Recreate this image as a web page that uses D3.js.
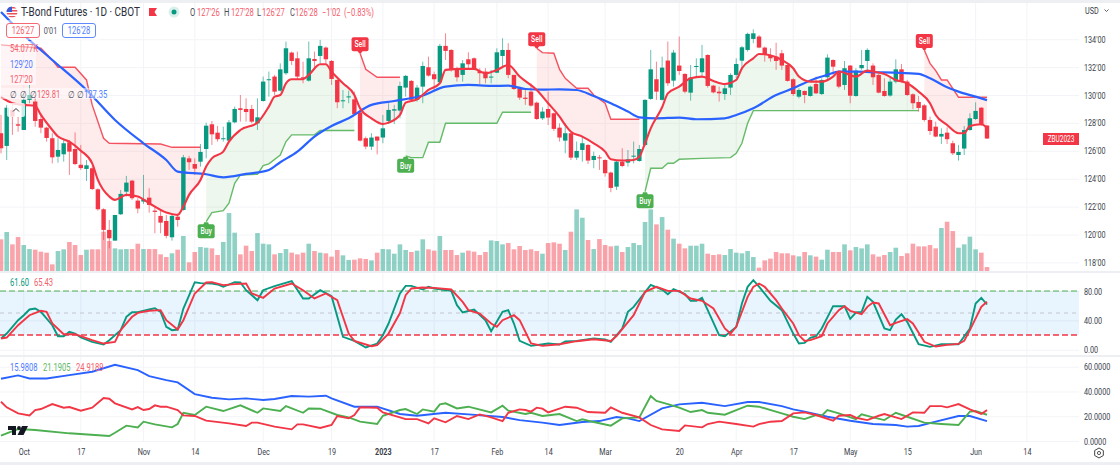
<!DOCTYPE html>
<html>
<head>
<meta charset="utf-8">
<title>T-Bond Futures</title>
<script src="https://cdn.jsdelivr.net/npm/d3@7"></script>
<style>
  html, body { margin: 0; padding: 0; background: #fff; }
  svg { display: block; }
  text { font-family: Roboto, "Open Sans", sans-serif; }
  .axis text { font-size: 9.5px; fill: #3a3e4a; }
  .axis path { display: none; }
  .axis line { stroke: #f3f4f7; }
</style>
</head>
<body>
<div id="chart"></div>
<script>
// Candles, bar 0 is the first one on the left
const openVals = [
  127.26,126.35,128.93,127.9,127.49,129.65,129.53,128.28,127.66,126.9,
  125.58,125.75,126.61,126.13,125.0,124.7,124.75,123.24,121.81,120.33,
  119.56,121.45,123.07,123.86,122.43,122.36,122.64,121.71,121.33,120.97,
  119.8,121.28,121.76,125.46,125.05,125.22,126.13,127.9,127.3,126.83,
  126.73,128.04,129.05,129.0,129.0,127.97,129.57,131.08,131.32,130.31,
  131.56,133.04,132.63,131.27,131.03,132.58,132.8,133.4,132.44,131.08,
  129.55,129.86,129.69,128.76,126.9,126.3,127.02,126.95,128.14,128.88,
  128.88,130.53,131.01,129.65,130.6,131.99,131.49,130.91,133.52,133.23,
  131.92,131.44,132.56,132.63,131.72,131.68,131.25,131.6,132.8,133.23,
  131.44,130.48,129.81,130.24,129.45,128.33,129.0,128.69,127.66,126.73,
  127.26,125.51,126.06,126.42,125.34,125.53,125.34,124.44,123.43,125.22,
  125.15,125.58,125.27,126.42,129.72,131.13,129.65,132.47,131.03,132.11,
  131.51,130.17,132.03,131.63,132.87,130.67,130.24,130.07,130.53,131.44,
  132.46,133.23,134.02,134.19,133.4,132.87,132.75,132.99,132.15,131.13,
  129.88,130.29,129.93,130.79,130.07,131.27,132.51,131.68,130.72,132.11,
  129.93,131.92,132.44,132.11,131.44,130.29,129.96,130.96,131.84,130.96,
  130.05,129.5,129.26,128.21,127.73,127.02,127.3,126.54,125.7,126.16,
  127.49,128.28,129.09,127.81
];
const closeVals = [
  126.18,129.09,128.45,127.8,129.65,130.0,128.14,127.66,126.92,125.53,
  126.06,126.54,125.94,125.05,124.76,124.96,123.26,121.81,120.33,119.73,
  121.4,122.91,123.72,122.6,121.86,122.52,122.12,121.62,120.85,119.9,
  121.33,121.04,125.53,125.18,124.72,125.92,127.8,127.18,126.83,126.9,
  128.04,129.0,128.93,128.78,128.09,128.4,130.96,131.13,130.24,131.84,
  133.35,132.44,131.32,131.17,132.63,132.44,133.52,132.56,131.15,129.48,
  129.62,129.9,128.62,126.73,126.3,126.95,126.73,127.61,128.93,128.98,
  130.65,131.37,129.65,130.53,132.08,131.39,131.13,133.52,133.16,131.87,
  131.27,132.27,132.2,131.84,131.56,131.2,131.32,133.06,133.23,131.44,
  130.43,129.81,129.72,129.24,128.28,128.81,128.38,127.57,126.95,127.26,
  125.51,125.99,126.54,125.3,125.63,125.49,124.39,123.34,125.22,124.91,
  125.39,125.65,126.13,129.65,131.84,130.24,131.96,130.84,133.04,131.72,
  130.24,131.25,132.08,132.63,130.65,130.19,130.12,130.48,131.44,132.22,
  133.42,134.38,134.42,133.4,132.92,132.63,132.44,132.11,131.01,130.07,
  130.36,130.0,130.6,130.12,131.08,132.68,132.03,130.6,131.92,129.95,
  131.75,132.15,133.23,131.27,130.17,129.93,130.96,131.84,131.01,130.0,
  129.41,129.07,128.21,127.42,127.02,127.21,126.83,125.82,125.92,127.49,
  128.33,128.86,127.85,126.88
];
const highVals = [
  128.57,129.29,129.41,128.45,130.12,130.72,130.0,128.69,127.73,127.26,
  126.9,126.78,126.78,127.32,126.42,125.34,124.87,123.31,121.88,121.04,
  121.4,123.19,124.2,123.91,122.6,124.27,123.31,122.0,121.76,121.4,
  121.4,121.52,125.7,125.63,125.46,126.49,128.02,128.14,127.78,127.73,
  128.21,129.17,130.0,129.76,129.29,129.76,131.32,131.68,131.44,132.27,
  133.83,133.11,133.11,132.39,133.83,133.11,133.95,133.47,132.51,131.13,
  130.36,130.31,130.24,128.81,127.02,127.26,127.02,128.57,129.41,129.29,
  130.96,131.44,131.08,130.72,132.39,132.75,131.68,133.66,134.42,133.28,
  132.03,132.51,133.06,132.7,131.92,131.92,131.8,133.35,134.07,133.71,
  131.44,130.6,130.36,130.84,129.53,129.12,130.24,128.74,127.97,127.97,
  127.3,126.66,127.02,126.49,125.94,125.7,125.39,124.51,125.27,126.18,
  126.06,126.66,126.42,129.69,133.23,132.39,132.75,133.83,133.23,134.19,
  131.56,132.15,132.63,133.59,132.92,130.72,130.6,130.72,131.56,132.63,
  133.52,134.47,134.71,134.3,133.47,133.35,133.75,133.23,132.2,131.2,
  130.48,130.31,130.67,131.32,131.2,132.92,132.56,131.72,132.44,132.15,
  131.92,133.23,133.35,132.27,131.51,131.2,131.2,132.56,132.22,131.08,
  130.12,129.93,129.36,128.45,128.09,127.61,127.68,126.73,126.42,127.78,
  128.69,129.47,129.12,127.85
];
const lowVals = [
  125.82,125.34,127.14,127.37,127.49,129.41,127.73,127.26,126.66,125.1,
  125.15,125.22,124.27,124.97,124.63,123.84,123.19,121.71,119.61,119.01,
  119.56,121.4,122.72,122.48,121.52,122.19,121.57,120.09,120.09,119.73,
  119.56,120.56,121.71,124.63,124.27,124.87,125.46,126.42,126.66,126.66,
  126.66,127.97,128.09,128.09,127.97,127.49,129.53,129.88,130.0,130.24,
  131.44,132.15,131.13,130.84,130.96,131.8,132.27,132.27,130.72,129.05,
  129.05,129.41,128.57,126.66,126.11,126.06,125.75,126.54,127.92,127.92,
  128.33,129.88,129.53,129.53,129.41,131.32,130.36,130.84,132.51,131.68,
  130.96,130.96,131.92,131.8,130.79,130.84,130.84,131.56,131.92,131.2,
  130.36,129.65,129.29,129.17,128.21,128.21,127.85,127.42,126.66,125.82,
  125.34,125.34,125.22,125.05,124.75,124.63,124.15,123.03,123.19,124.82,
  124.87,125.1,125.22,126.35,129.65,129.65,129.6,130.65,130.6,131.44,
  130.12,129.6,131.32,131.32,130.53,130.12,129.53,129.65,130.0,131.2,
  131.8,133.11,133.71,133.35,132.39,132.39,131.8,131.8,130.96,129.93,
  129.76,129.41,129.88,130.07,130.0,131.08,131.44,130.48,130.36,129.41,
  129.88,131.8,131.75,130.72,130.12,129.88,129.88,130.84,130.89,129.93,
  128.98,128.8,128.09,127.14,126.97,126.49,126.49,125.7,125.3,125.7,
  127.44,128.21,127.78,126.85
];
// Volume in thousands
const volumeVals = [
  428,527,360,459,351,297,288,261,248,90,270,293,392,351,216,288,293,293,531,405,
  306,293,297,297,369,297,297,297,225,189,239,288,473,117,257,324,315,306,216,392,
  783,518,225,342,270,513,369,360,225,243,297,248,225,248,369,270,248,239,194,284,
  212,149,153,171,162,144,248,297,293,234,360,284,257,275,428,293,275,473,284,284,
  216,248,275,261,216,257,414,405,360,378,293,338,284,293,270,234,378,387,369,284,
  531,833,720,419,297,432,351,333,342,257,324,378,351,662,833,630,729,558,437,369,
  306,342,342,369,234,216,225,216,297,248,239,270,189,45,144,167,257,239,239,212,
  198,257,212,194,153,288,257,257,360,279,324,306,360,225,194,216,257,315,203,239,
  369,333,333,351,306,581,666,540,315,360,464,293,248,54
];

// Moving averages, bar number and price at the bends
const fastBars = [0,2,4,6,7,9,10,12,14,16,17,19,20,22,24,26,29,31,32,33,35,36,37,39,40,42,45,47,48,49,50,51,53,54,56,57,58,60,62,63,65,67,68,70,71,73,75,77,78,81,83,85,87,89,91,94,96,98,99,100,102,104,106,107,109,111,112,113,114,116,117,119,121,123,125,127,129,130,132,133,134,137,139,140,142,144,146,147,150,152,153,155,157,159,161,163,164,166,168,169,170,172,173];
const fastVals = [129.84,129.41,129.29,129.21,128.57,127.49,127.02,126.66,126.01,125.1,123.91,122.72,122.48,122.84,122.72,122.24,121.57,121.4,122.0,122.84,123.91,124.87,125.46,125.94,126.66,127.49,128.02,129.17,129.88,130.0,130.84,131.13,131.13,131.44,132.2,132.2,131.68,130.84,130.0,129.05,128.33,127.92,128.02,128.57,129.45,129.69,130.36,130.84,131.8,131.87,131.87,131.56,131.8,132.15,131.32,130.36,129.41,128.45,127.85,127.37,127.02,126.54,125.94,125.39,125.3,125.34,125.58,126.54,127.61,129.12,130.12,130.6,131.2,131.32,131.01,130.79,131.08,131.92,132.63,132.94,132.92,132.51,131.92,131.32,130.96,130.96,131.32,131.68,131.32,131.75,131.68,131.5,131.08,130.84,130.24,129.41,128.57,127.85,127.26,127.26,127.78,127.9,127.63];
const slowBars = [0,4,9,15,20,25,29,31,36,39,43,47,49,52,55,58,61,65,69,74,78,82,86,89,92,95,98,101,104,107,110,112,115,119,122,127,129,132,136,139,143,145,147,150,153,157,161,163,166,168,171,173];
const slowVals = [135.95,134.3,132.51,130.36,128.21,126.54,125.34,124.51,124.32,124.1,124.34,124.63,125.18,125.94,127.02,127.78,128.33,129.29,129.57,129.96,130.6,130.72,130.65,130.67,130.43,130.38,130.41,130.36,129.93,129.41,128.81,128.4,128.33,128.38,128.26,128.33,128.57,129.05,130.0,130.48,131.2,131.44,131.68,131.68,131.63,131.6,131.51,131.2,130.55,130.24,129.88,129.63];

// Supertrend stretches
const sellBars1 = [0,7,9,10,13,15,16,18,19,28,30,35];
const sellVals1 = [133.59,133.35,132.51,131.99,131.99,131.08,129.29,126.9,126.54,126.49,126.25,126.25];
const buyBars1 = [36,37,39,40,41,42,45,46,47,49,50,51,55,56,62];
const buyVals1 = [120.92,121.57,121.71,122.24,123.67,124.27,124.32,124.94,125.06,125.7,126.66,127.14,127.14,127.45,127.45];
const sellBars2 = [63,64,66,70];
const sellVals2 = [132.99,131.84,131.27,131.27];
const buyBars2 = [71,72,74,75,77,78,87,88,93];
const buyVals2 = [125.63,125.51,125.51,126.61,126.61,127.97,127.97,128.76,128.76];
const sellBars3 = [94,95,97,98,99,101,103,104,106,107,112];
const sellVals3 = [133.35,133.04,132.99,131.84,131.2,130.48,130.48,130.0,129.41,128.26,128.26];
const buyBars3 = [113,114,116,117,118,119,123,128,129,130,131,132,161];
const buyVals3 = [123.07,124.75,124.75,125.11,125.11,125.39,125.46,125.51,125.82,126.54,127.97,128.88,128.88];
const sellBars4 = [162,163,164,165,166,168,173];
const sellVals4 = [133.23,132.27,131.75,131.08,131.08,129.84,129.84];

// Stochastic RSI
const kBars = [0,1,3,4,5,6,7,9,10,11,12,13,14,16,18,19,21,22,23,24,26,27,28,29,30,31,32,34,35,37,38,39,41,42,43,45,46,48,51,53,54,56,58,60,62,64,66,67,68,70,71,72,74,75,76,79,80,81,83,85,86,88,89,90,91,93,96,98,99,101,104,106,107,109,110,111,114,116,117,118,120,121,122,123,124,126,127,129,130,131,132,133,135,137,139,140,141,142,143,144,146,148,149,150,151,152,153,155,156,157,158,159,161,163,165,168,170,171,172,173];
const kVals = [15.2,22,40.2,47,54.8,56.1,51.6,33.4,18.4,18.4,24.3,22,16.6,10.7,7,13,26.6,44.8,51.1,51.1,54.8,56.6,51.6,31.1,26.6,27.5,56.1,92,90.7,90.2,88.9,85.7,92,91.6,81.1,67.5,81.1,86.6,93.4,69.8,69.8,81.1,73,17.5,12,3,8.4,19.8,35.7,76.6,87,87,82,85.7,83.4,80.2,60.7,50.7,54.8,40.2,25.2,51.6,53.9,35.7,12,5.2,8.4,7,11.1,12,15.2,13.9,10.7,28.9,51.6,58.4,88.4,82,75.7,82.5,75.7,66.6,66.6,70.7,53.9,19.8,18.4,31.1,63,85.7,94.8,86,66.6,53.9,22,8.4,9.3,16.1,18.4,28.9,59.3,59.3,42,50.7,51.6,72,65.2,28.9,26.6,41.1,48.4,38,7.5,3.9,7.5,7.5,28.9,63,70.7,61.6];
const dBars = [0,1,3,5,7,8,9,11,13,16,18,20,21,23,24,26,28,29,31,32,34,36,37,39,41,43,44,46,48,51,53,55,57,59,61,62,65,66,68,70,71,72,74,76,79,81,82,84,86,87,88,90,91,93,95,98,101,104,107,108,111,113,115,117,119,121,123,125,127,128,129,131,132,133,134,136,137,139,140,141,142,144,145,147,148,149,151,152,153,154,156,157,159,160,162,164,166,168,169,170,172,173];
const dVals = [15.2,16.6,33.4,47,53,51.6,35.7,21.1,21.1,13,8.4,10.7,26.6,44.8,50.2,53,53.9,40.2,27.5,40.2,76.6,91.6,92,88,89.3,90.2,76.6,70.7,83.4,90.2,81.1,69.8,76.6,67.5,22,12,4.8,6.1,22,50,74.3,83.4,84.8,84.3,82,65.2,53.9,49.3,35.7,31.1,40.2,47,40.2,8.4,5.2,7.5,11.6,14.3,12,18.4,47,78.9,85.7,80.2,80.2,69.8,66.6,56.1,28.9,22,31.1,72,85.7,90.2,85.7,67.5,56.1,35.7,19.8,12,13,18.4,35.7,53.9,59.3,53,48.4,58.4,64.3,63,33.4,36.6,41.6,35.7,10.7,4.3,6.6,8,12,26.6,58.4,65.43];

// Directional movement
const diBlueBars = [0,3,5,8,12,16,20,24,26,29,31,34,37,40,43,46,48,51,54,57,58,62,66,70,73,78,82,88,91,95,98,102,105,108,110,112,116,119,123,127,131,133,137,139,141,145,149,153,157,159,161,164,168,170,173];
const diBlueVals = [50.3,53,50.5,50.5,53.2,55.9,61.6,57.3,52.4,49.2,47.3,37.9,34.9,33.6,34.4,33.1,33.9,36.3,35.8,36.6,34.4,27.7,27.7,21.8,20.4,22.8,21.5,19.4,16.9,14.8,12.9,15.3,16.1,19.4,18.3,16.1,26.3,29.6,30.9,28.2,31.5,31.5,28.2,25.5,23.7,19.6,16.4,13.7,12.9,11.6,12.1,15.6,20.2,20.2,15.98];
const diGreenBars = [0,1,3,6,12,19,20,22,24,25,27,30,31,32,34,36,39,42,45,46,49,50,53,54,56,59,61,63,66,67,70,71,73,74,76,77,78,80,82,86,88,89,92,93,95,98,101,102,104,107,109,112,114,115,117,119,121,123,124,127,129,131,133,137,139,141,143,144,145,147,150,151,153,155,157,159,162,165,168,170,171,173];
const diGreenVals = [4.3,6.2,9.7,8.9,6.2,4,6.7,12.4,11,15.6,13.4,11,13.7,22.8,21,27.7,24.2,28.8,22.8,26.3,24.2,28.2,22.8,26.3,26.1,21,19.1,15.6,13.7,20.4,25,25.8,21.8,25.5,23.7,29.6,30.4,26.3,27.7,23.1,28.5,24.5,21.8,22.8,20.2,21.8,16.1,17.5,15.3,12.4,18.3,19.1,36.3,32.3,29.8,26.9,23.4,25,22.8,21.2,25,28.5,27.7,22.3,19.6,17.7,21,20.4,25,22.3,17.7,21.5,19.1,16.9,22.8,19.6,14.8,13.7,12.9,23.7,24.2,21.19];
const diRedBars = [0,1,3,5,6,7,9,11,12,14,16,18,19,20,23,24,25,26,27,28,29,31,32,34,36,40,43,44,45,48,51,52,53,56,58,59,61,62,63,66,67,70,71,73,75,76,78,80,82,84,86,88,89,91,92,93,94,95,96,99,101,103,106,107,109,112,114,116,119,120,123,124,126,129,132,133,135,137,139,141,143,146,147,149,150,152,154,155,158,160,162,163,165,166,168,170,172,173];
const diRedVals = [31.7,27.2,22.3,20.7,25,25.8,29.8,26.9,27.4,24.5,26.9,34.7,34.1,30.4,25.5,27.4,25,25.8,28.8,27.7,27.7,25,20.7,20.2,16.4,14.2,12.1,14.8,14.8,11.6,9.4,13.4,13.4,10.5,12.9,20.2,18.3,21,27.2,26.9,23.1,19.1,17.7,17.7,14.2,18.3,15.1,20.2,17.7,21.5,19.1,16.1,22.8,25.5,25,23.7,26.9,26.1,23.1,27.7,26.9,23.4,22.8,27.2,22.8,19.1,12.9,9.4,8.1,12.6,11,13.7,15.6,13.7,11.6,13.7,15.6,16.1,22.3,23.1,21,16.4,20.4,21,18.8,16.9,20.4,21.8,17.7,23.1,22.8,28.2,28.2,27.2,29.8,25.5,21.8,24.92];

// Axis labels
const timeBars = [4,14,25,34,46,58,67,76,87,96,106,119,129,139,149,159,171,180];
const timeLabels = ["Oct","17","Nov","14","Dec","19","2023","17","Feb","14","Mar","20","Apr","17","May","15","Jun","14"];
const priceTicks = [118,120,122,124,126,128,130,132,134];
const stochTicks = [0,40,80];
const dmiTicks = [0,20,40,60];

const width = 1120, height = 465, paneRight = 1079;
const up = "#089981", down = "#f23645", blue = "#2962ff", green = "#4caf50";

const svg = d3.select("#chart").append("svg").attr("width", width).attr("height", height);

const x = d3.scaleLinear().domain([0, 173]).range([1, 987]);
const y = d3.scaleLinear().domain([118, 134]).range([262.4, 39.2]);
const yVol = d3.scaleLinear().domain([0, 1000]).range([271, 197]);
const yStoch = d3.scaleLinear().domain([0, 80]).range([349.7, 291]);
const yDmi = d3.scaleLinear().domain([0, 60]).range([441, 366.7]);

svg.append("defs").append("clipPath").attr("id", "mainClip")
  .append("rect").attr("x", 0).attr("y", 4).attr("width", paneRight).attr("height", 267);

// Grid lines and axes
const gridX = svg.append("g").attr("class", "axis")
  .attr("transform", "translate(0,442)")
  .call(d3.axisBottom(x).tickValues(timeBars).tickSize(0).tickPadding(6).tickFormat((d, i) => timeLabels[i]));
gridX.selectAll("text").attr("font-weight", (d, i) => timeLabels[i] == "2023" ? 700 : 400);

[[3, 271], [272, 355], [356, 442]].forEach(p => {
  svg.append("g").selectAll("line").data(timeBars).enter().append("line")
    .attr("x1", d => x(d)).attr("x2", d => x(d)).attr("y1", p[0]).attr("y2", p[1])
    .attr("stroke", "#f3f4f7");
});

function rightAxis(scale, ticks, fmt) {
  return svg.append("g").attr("class", "axis").attr("transform", "translate(" + paneRight + ",0)")
    .call(d3.axisRight(scale).tickValues(ticks).tickSize(-paneRight).tickPadding(5).tickFormat(fmt));
}
rightAxis(y, priceTicks, d => d + "'00");
rightAxis(yStoch, stochTicks, d => d3.format(".2f")(d));
rightAxis(yDmi, dmiTicks, d => d3.format(".4f")(d));

// Supertrend fills go from the line to the fast average
const fastAt = d3.scaleLinear().domain(fastBars).range(fastVals);
const trendSegs = [
  { bars: sellBars1, vals: sellVals1, color: down, sig: "Sell" },
  { bars: buyBars1, vals: buyVals1, color: green, sig: "Buy" },
  { bars: sellBars2, vals: sellVals2, color: down, sig: "Sell" },
  { bars: buyBars2, vals: buyVals2, color: green, sig: "Buy" },
  { bars: sellBars3, vals: sellVals3, color: down, sig: "Sell" },
  { bars: buyBars3, vals: buyVals3, color: green, sig: "Buy" },
  { bars: sellBars4, vals: sellVals4, color: down, sig: "Sell" }
];

function pairs(bars, vals) { return bars.map((b, i) => [b, vals[i]]); }

const main = svg.append("g").attr("clip-path", "url(#mainClip)");
const priceLine = d3.line().x(d => x(d[0])).y(d => y(d[1]));

trendSegs.forEach(s => {
  const first = s.bars[0], last = s.bars[s.bars.length - 1];
  const back = d3.range(last, first - 1, -1).map(b => [b, fastAt(b)]);
  main.append("path")
    .attr("d", priceLine(pairs(s.bars, s.vals).concat(back)) + "Z")
    .attr("fill", s.color).attr("fill-opacity", 0.1);
});

// Volume under the candles
main.selectAll("rect.vol").data(volumeVals).enter().append("rect")
  .attr("class", "vol")
  .attr("x", (d, i) => x(i) - 2.3)
  .attr("width", 4.6)
  .attr("y", d => yVol(d))
  .attr("height", d => yVol(0) - yVol(d))
  .attr("fill", (d, i) => closeVals[i] >= openVals[i] ? up : down)
  .attr("fill-opacity", 0.45);

trendSegs.forEach(s => {
  main.append("path").attr("d", priceLine(pairs(s.bars, s.vals)))
    .attr("fill", "none").attr("stroke", s.color).attr("stroke-width", 1.4).attr("stroke-opacity", 0.85);
});

// Candles
const barColor = i => closeVals[i] >= openVals[i] ? up : down;
main.selectAll("line.wick").data(highVals).enter().append("line")
  .attr("class", "wick")
  .attr("x1", (d, i) => x(i)).attr("x2", (d, i) => x(i))
  .attr("y1", d => y(d)).attr("y2", (d, i) => y(lowVals[i]))
  .attr("stroke", (d, i) => barColor(i)).attr("stroke-width", 1).attr("stroke-opacity", 0.6);
main.selectAll("rect.body").data(openVals).enter().append("rect")
  .attr("class", "body")
  .attr("x", (d, i) => x(i) - 2.2)
  .attr("width", 4.4)
  .attr("y", (d, i) => y(Math.max(d, closeVals[i])))
  .attr("height", (d, i) => Math.max(1, Math.abs(y(d) - y(closeVals[i]))))
  .attr("fill", (d, i) => barColor(i));

// Moving averages
const priceCurve = d3.line().x(d => x(d[0])).y(d => y(d[1])).curve(d3.curveMonotoneX);
main.append("path").attr("d", priceCurve(pairs(slowBars, slowVals)))
  .attr("fill", "none").attr("stroke", blue).attr("stroke-width", 2.2);
main.append("path").attr("d", priceCurve(pairs(fastBars, fastVals)))
  .attr("fill", "none").attr("stroke", down).attr("stroke-width", 2.1);

// Buy and Sell flags
trendSegs.slice(1).forEach(s => {
  const isBuy = s.sig == "Buy";
  const fx = x(s.bars[0]), fy = y(s.vals[0]);
  const cy = isBuy ? fy + 9.7 : fy - 9;
  const g = svg.append("g");
  g.append("rect").attr("x", fx - 8.5).attr("y", cy - 7).attr("width", 17).attr("height", 14)
    .attr("rx", 2).attr("fill", s.color);
  g.append("path").attr("fill", s.color)
    .attr("d", isBuy
      ? d3.line()([[fx - 3, cy - 6], [fx - 2, cy - 9], [fx + 2, cy - 9], [fx + 3, cy - 6]])
      : d3.line()([[fx - 3, cy + 6], [fx - 1, cy + 9], [fx + 1, cy + 9], [fx + 3, cy + 6]]));
  g.append("text").attr("x", fx).attr("y", cy + 3).attr("text-anchor", "middle")
    .attr("font-size", 9).attr("font-weight", 500).attr("fill", "#fff").text(s.sig);
});

// Contract label on the price scale
svg.append("rect").attr("x", 1043).attr("y", 133).attr("width", 36).attr("height", 12).attr("fill", down);
svg.append("text").attr("x", 1061).attr("y", 142).attr("text-anchor", "middle")
  .attr("font-size", 8.5).attr("fill", "#fff").text("ZBU2023");

// Stochastic pane
svg.append("rect").attr("x", 0).attr("width", paneRight)
  .attr("y", yStoch(80)).attr("height", yStoch(20) - yStoch(80))
  .attr("fill", "#2196f3").attr("fill-opacity", 0.1);
[[80, green, "6,3", 1.2], [50, "#b8bcc6", "4,4", 0.8], [20, down, "6,3", 1.6]].forEach(l => {
  svg.append("line").attr("x1", 0).attr("x2", paneRight).attr("y1", yStoch(l[0])).attr("y2", yStoch(l[0]))
    .attr("stroke", l[1]).attr("stroke-dasharray", l[2]).attr("stroke-width", l[3]);
});
const stochLine = d3.line().x(d => x(d[0])).y(d => yStoch(d[1]));
svg.append("path").attr("d", stochLine(pairs(kBars, kVals)))
  .attr("fill", "none").attr("stroke", up).attr("stroke-width", 1.9);
svg.append("path").attr("d", stochLine(pairs(dBars, dVals)))
  .attr("fill", "none").attr("stroke", down).attr("stroke-width", 1.9);

// Directional movement pane
const dmiLine = d3.line().x(d => x(d[0])).y(d => yDmi(d[1]));
[[diBlueBars, diBlueVals, blue], [diGreenBars, diGreenVals, green], [diRedBars, diRedVals, down]].forEach(s => {
  svg.append("path").attr("d", dmiLine(pairs(s[0], s[1])))
    .attr("fill", "none").attr("stroke", s[2]).attr("stroke-width", 1.9);
});

// Pale backing behind the legend rows
[[0, 20, 100, 20], [0, 41, 36, 44], [0, 88, 108, 11]].forEach(r => {
  svg.append("rect").attr("x", r[0]).attr("y", r[1]).attr("width", r[2]).attr("height", r[3])
    .attr("fill", "#fff").attr("fill-opacity", 0.5);
});
svg.append("rect").attr("x", 7).attr("y", 103).attr("width", 18).attr("height", 14).attr("rx", 2)
  .attr("fill", "#fff").attr("fill-opacity", 0.8);
svg.append("path").attr("d", "M13,111.5L16,108.5L19,111.5").attr("fill", "none").attr("stroke", "#333").attr("stroke-width", 1);

// Legend
function label(lx, ly, str, color, size) {
  return svg.append("text").attr("x", lx).attr("y", ly).attr("font-size", size).attr("fill", color).text(str);
}
const ink = "#4a4e5a", redText = "#f4606c", blueText = "#4f7dff", greenText = "#62b866";
label(21, 16, "T-Bond Futures · 1D · CBOT", "#2a2e39", 12).attr("class", "title");
[[190, "O", 197, "127'26"], [224, "H", 231, "127'28"], [257, "L", 262, "126'27"], [290, "C", 295, "126'28"]].forEach(r => {
  label(r[0], 16, r[1], ink, 10);
  label(r[2], 16, r[3], redText, 10);
});
label(322, 16, "−1'02", redText, 10);
label(344, 16, "(−0.83%)", redText, 10);

// US flag dot
svg.append("clipPath").attr("id", "flagClip").append("circle").attr("cx", 12).attr("cy", 12).attr("r", 5.5);
const flag = svg.append("g").attr("clip-path", "url(#flagClip)");
flag.append("rect").attr("x", 6).attr("y", 6).attr("width", 12).attr("height", 12).attr("fill", "#fff");
[7, 10, 13, 16].forEach(v => flag.append("rect").attr("x", 6).attr("y", v).attr("width", 12).attr("height", 1.5).attr("fill", "#e8505b"));
flag.append("rect").attr("x", 6).attr("y", 6).attr("width", 6).attr("height", 6).attr("fill", "#3c5bd6");
svg.append("path").attr("d", "M149,8H157L154.5,12L157,16H149Z").attr("fill", down);
svg.append("circle").attr("cx", 174).attr("cy", 12).attr("r", 5.5).attr("fill", "#d9f0ec");
svg.append("circle").attr("cx", 174).attr("cy", 12).attr("r", 2.5).attr("fill", up);

// Bid and ask boxes
[[6, "126'27", down], [62, "126'28", blue]].forEach(b => {
  svg.append("rect").attr("x", b[0] + 0.5).attr("y", 23.5).attr("width", 33).attr("height", 14).attr("rx", 2.5)
    .attr("fill", "#fff").attr("stroke", b[2]).attr("stroke-opacity", 0.75);
  svg.append("text").attr("x", b[0] + 17).attr("y", 34).attr("text-anchor", "middle")
    .attr("font-size", 10).attr("fill", b[2] == down ? redText : blueText).text(b[1]);
});
svg.append("text").attr("x", 50.5).attr("y", 34).attr("text-anchor", "middle").attr("font-size", 9.5).attr("fill", ink).text("0'01");

label(10, 52, "54.077K", redText, 10);
label(10, 68, "129'20", blueText, 10);
label(10, 83, "127'20", redText, 10);
[10, 20, 30, 68, 77].forEach(px => label(px, 98, "∅", ink, 10));
label(37, 98, "129.81", redText, 10);
label(84, 98, "127.35", blueText, 10);

label(10, 286, "61.60", up, 10);
label(34, 286, "65.43", redText, 10);
label(10, 370.5, "15.9808", blueText, 10);
label(43, 370.5, "21.1905", greenText, 10);
label(76, 370.5, "24.9189", redText, 10);

// Currency and bottom right controls
label(1085, 14, "USD", "#3a3e4a", 9.5);
svg.append("path").attr("d", "M1104.5,9.5L1106.5,11.5L1108.5,9.5").attr("fill", "none").attr("stroke", "#3a3e4a").attr("stroke-width", 0.8);
svg.append("path")
  .attr("d", d3.line().curve(d3.curveLinearClosed)(d3.range(6).map(k => [1099 + 5 * Math.sin(k * Math.PI / 3), 453 + 5 * Math.cos(k * Math.PI / 3)])))
  .attr("fill", "none").attr("stroke", "#444").attr("stroke-width", 1);
svg.append("circle").attr("cx", 1099).attr("cy", 453).attr("r", 1.6).attr("fill", "none").attr("stroke", "#444").attr("stroke-width", 0.9);

// Chart logo
svg.append("path").attr("d", "M8,426H16V435H12V430H8ZM22,426H28L23.5,435H17.5Z").attr("fill", "#131722");
svg.append("circle").attr("cx", 19).attr("cy", 428).attr("r", 1.9).attr("fill", "#131722");

// The labels in the picture run narrower than the plain font
svg.selectAll("text").each(function() {
  const k = d3.select(this).classed("title") ? 0.83 : 0.76;
  d3.select(this).attr("textLength", this.getComputedTextLength() * k).attr("lengthAdjust", "spacingAndGlyphs");
});

// Pane separators and outer frame
[[0, width, 0, 3], [0, width, 271, 2], [0, width, 355, 2], [0, width, 462, 3]].forEach(r => {
  svg.append("rect").attr("x", r[0]).attr("width", r[1]).attr("y", r[2]).attr("height", r[3]).attr("fill", "#edeff3");
});
</script>
</body>
</html>
